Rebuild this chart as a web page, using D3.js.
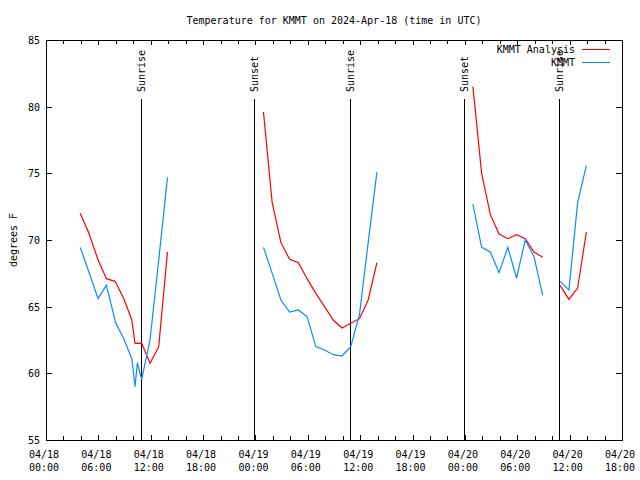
<!DOCTYPE html>
<html>
<head>
<meta charset="utf-8">
<script src="https://cdn.jsdelivr.net/npm/d3@7"></script>
<style>
  html, body { margin: 0; padding: 0; background: #fff; }
  text { font-family: "DejaVu Sans Mono", "Liberation Mono", monospace; font-size: 10px; fill: #000; }
</style>
</head>
<body>
<svg id="chart" width="640" height="480"></svg>
<script>
// ---- data ----
const title = "Temperature for KMMT on 2024-Apr-18 (time in UTC)";
const yLabel = "degrees F";
const seriesNames = ["KMMT Analysis", "KMMT"];
const seriesColors = ["#ff0000", "#0a8cff"];

const xStart = "2024-04-18T00:00Z";
const xEnd = "2024-04-20T18:00Z";
const yTicks = [55, 60, 65, 70, 75, 80, 85];

// analysis (red), broken into segments
const analysisTimes = [
  ["2024-04-18T03:55Z","2024-04-18T04:55Z","2024-04-18T05:55Z","2024-04-18T06:55Z","2024-04-18T07:55Z","2024-04-18T08:55Z","2024-04-18T09:50Z","2024-04-18T10:12Z","2024-04-18T10:58Z","2024-04-18T11:55Z","2024-04-18T12:55Z","2024-04-18T13:55Z"],
  ["2024-04-19T00:55Z","2024-04-19T01:55Z","2024-04-19T02:55Z","2024-04-19T03:55Z","2024-04-19T04:55Z","2024-04-19T05:55Z","2024-04-19T06:55Z","2024-04-19T07:55Z","2024-04-19T08:55Z","2024-04-19T09:55Z","2024-04-19T10:55Z","2024-04-19T11:55Z","2024-04-19T12:55Z","2024-04-19T13:55Z"],
  ["2024-04-20T00:55Z","2024-04-20T01:55Z","2024-04-20T02:55Z","2024-04-20T03:55Z","2024-04-20T04:55Z","2024-04-20T05:55Z","2024-04-20T06:55Z","2024-04-20T07:55Z","2024-04-20T08:55Z"],
  ["2024-04-20T10:55Z","2024-04-20T11:55Z","2024-04-20T12:55Z","2024-04-20T13:55Z"]
];
const analysisTemps = [
  [72.0, 70.5, 68.6, 67.1, 66.9, 65.6, 64.0, 62.25, 62.25, 60.75, 62.0, 69.1],
  [79.6, 72.8, 69.8, 68.55, 68.3, 67.1, 66.0, 65.0, 64.0, 63.4, 63.75, 64.1, 65.5, 68.3],
  [81.5, 75.0, 71.9, 70.45, 70.1, 70.4, 70.1, 69.1, 68.7],
  [66.6, 65.55, 66.4, 70.6]
];

// observations (blue)
const obsTimes = [
  ["2024-04-18T03:55Z","2024-04-18T04:55Z","2024-04-18T05:58Z","2024-04-18T06:55Z","2024-04-18T08:00Z","2024-04-18T08:55Z","2024-04-18T09:50Z","2024-04-18T10:12Z","2024-04-18T10:28Z","2024-04-18T10:40Z","2024-04-18T10:58Z","2024-04-18T11:55Z","2024-04-18T12:55Z","2024-04-18T13:55Z"],
  ["2024-04-19T00:55Z","2024-04-19T01:55Z","2024-04-19T02:55Z","2024-04-19T03:55Z","2024-04-19T04:55Z","2024-04-19T05:55Z","2024-04-19T06:55Z","2024-04-19T07:55Z","2024-04-19T08:55Z","2024-04-19T09:55Z","2024-04-19T10:55Z","2024-04-19T11:55Z","2024-04-19T12:55Z","2024-04-19T13:55Z"],
  ["2024-04-20T00:55Z","2024-04-20T01:55Z","2024-04-20T02:55Z","2024-04-20T03:55Z","2024-04-20T04:55Z","2024-04-20T05:55Z","2024-04-20T06:55Z","2024-04-20T07:55Z","2024-04-20T08:55Z"],
  ["2024-04-20T10:55Z","2024-04-20T11:55Z","2024-04-20T12:55Z","2024-04-20T13:55Z"]
];
const obsTemps = [
  [69.45, 67.6, 65.6, 66.6, 63.75, 62.6, 61.1, 59.0, 60.8, 60.25, 59.55, 62.5, 68.5, 74.7],
  [69.45, 67.5, 65.5, 64.6, 64.75, 64.25, 62.0, 61.75, 61.4, 61.3, 62.0, 64.4, 69.8, 75.1],
  [72.7, 69.45, 69.1, 67.55, 69.45, 67.15, 70.0, 68.75, 65.85],
  [66.9, 66.25, 72.8, 75.6]
];

const eventNames = ["Sunrise", "Sunset", "Sunrise", "Sunset", "Sunrise"];
const eventTimes = ["2024-04-18T10:53Z", "2024-04-18T23:53Z", "2024-04-19T10:50Z", "2024-04-19T23:53Z", "2024-04-20T10:48Z"];

// ---- layout ----
const W = 640, H = 480;
const m = { left: 46, right: 622, top: 40, bottom: 440 };
const svg = d3.select("#chart");
const parse = d3.isoParse;

const x = d3.scaleUtc().domain([parse(xStart), parse(xEnd)]).range([m.left, m.right]);
const y = d3.scaleLinear().domain([55, 85]).range([m.bottom, m.top]);

// title
svg.append("text").attr("x", 334).attr("y", 24).attr("text-anchor", "middle").text(title);

// y label
svg.append("text").attr("transform", "translate(17,240) rotate(-90)")
  .attr("text-anchor", "middle").text(yLabel);

const crisp = svg.append("g").attr("shape-rendering", "crispEdges");

// border
crisp.append("rect").attr("x", m.left + 0.5).attr("y", m.top + 0.5)
  .attr("width", m.right - m.left).attr("height", m.bottom - m.top)
  .attr("fill", "none").attr("stroke", "#000").attr("stroke-width", 1);

// y ticks
yTicks.forEach(v => {
  const yy = Math.round(y(v)) + 0.5;
  crisp.append("line").attr("x1", m.left).attr("x2", m.left + 6).attr("y1", yy).attr("y2", yy).attr("stroke", "#000");
  crisp.append("line").attr("x1", m.right - 6).attr("x2", m.right).attr("y1", yy).attr("y2", yy).attr("stroke", "#000");
  svg.append("text").attr("x", 40).attr("y", y(v) + 4).attr("text-anchor", "end").text(v);
});

// x ticks every 2 hours, labels every 6 hours
const minor = d3.utcHour.every(2).range(parse(xStart), d3.utcMinute.offset(parse(xEnd), 1));
minor.forEach(t => {
  const xx = Math.round(x(t)) + 0.5;
  const major = t.getUTCHours() % 6 === 0;
  const len = major ? 5 : 4;
  crisp.append("line").attr("x1", xx).attr("x2", xx).attr("y1", m.bottom).attr("y2", m.bottom - len).attr("stroke", "#000");
  crisp.append("line").attr("x1", xx).attr("x2", xx).attr("y1", m.top).attr("y2", m.top + len).attr("stroke", "#000");
  if (major) {
    const tx = svg.append("text").attr("text-anchor", "middle");
    tx.append("tspan").attr("x", x(t) - 2).attr("y", 458).text(d3.utcFormat("%m/%d")(t));
    tx.append("tspan").attr("x", x(t) - 2).attr("y", 471).text(d3.utcFormat("%H:%M")(t));
  }
});

// sunrise / sunset lines
eventTimes.forEach((t, i) => {
  const xx = Math.round(x(parse(t))) + 0.5;
  crisp.append("line").attr("x1", xx).attr("x2", xx).attr("y1", 99).attr("y2", m.bottom).attr("stroke", "#000");
  svg.append("text").attr("transform", `translate(${x(parse(t)) + 4},92) rotate(-90)`)
    .attr("text-anchor", "start").text(eventNames[i]);
});

// lines
const line = d3.line().x(d => x(d[0])).y(d => y(d[1]));
function drawSeries(times, temps, color) {
  times.forEach((seg, i) => {
    const pts = seg.map((t, j) => [parse(t), temps[i][j]]);
    svg.append("path").attr("d", line(pts)).attr("fill", "none")
      .attr("stroke", color).attr("stroke-width", 1.2);
  });
}
drawSeries(analysisTimes, analysisTemps, seriesColors[0]);
drawSeries(obsTimes, obsTemps, seriesColors[1]);

// legend
seriesNames.forEach((n, i) => {
  const ly = 49 + i * 13;
  svg.append("text").attr("x", 575).attr("y", ly + 4).attr("text-anchor", "end").text(n);
  crisp.append("line").attr("x1", 582).attr("x2", 610).attr("y1", ly + 0.5).attr("y2", ly + 0.5)
    .attr("stroke", seriesColors[i]);
});
</script>
</body>
</html>
